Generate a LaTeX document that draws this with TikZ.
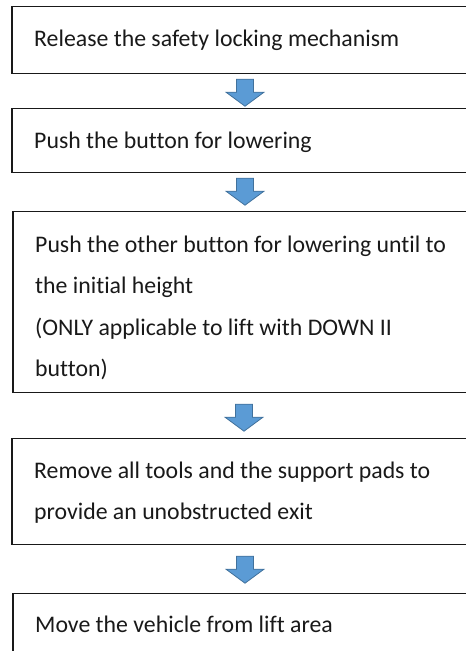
\documentclass[tikz,border=0pt]{standalone}
\usepackage{fontspec}
\setmainfont{Carlito}[Ligatures=NoCommon]
\usetikzlibrary{calc}
\definecolor{arrowfill}{HTML}{5B9BD5}
\definecolor{arrowline}{HTML}{41719C}
\tikzset{
  stepbox/.style={draw=black!90, line width=1.2pt, rectangle, minimum width=466pt, inner sep=0pt, anchor=north},
  txt/.style={inner sep=0pt, anchor=base west, font=\fontsize{23.8}{41.5}\selectfont, text=black!90},
  blockarrow/.style={fill=arrowfill, draw=arrowline, line width=0.8pt, line join=miter}
}
\newcommand\downarrowat[1]{%
  \draw[blockarrow] ($(#1)+(-8.5,0)$) -- ++(17,0) -- ++(0,13) -- ++(10.5,0)
    -- ($(#1)+(0,27)$) -- ($(#1)+(-19,13)$) -- ++(10.5,0) -- cycle;}
\newcommand\lines[1]{\vtop{#1}}
\begin{document}
\begin{tikzpicture}[x=1pt,y=-1pt]
\useasboundingbox (0,0) rectangle (466,651);
\clip (0,0) rectangle (466,651);
\node[stepbox, minimum height=67pt] (b1) at (245,6) {};
\node[stepbox, minimum height=64pt] (b2) at (245,108) {};
\node[stepbox, minimum height=181pt] (b3) at (246,211) {};
\node[stepbox, minimum height=106pt] (b4) at (245,438) {};
\node[stepbox, minimum height=80pt] (b5) at (246,593) {};
\node[txt] (t1) at (34,46) {Release the safety locking mechanism};
\node[txt] (t2) at (34,148) {Push the button for lowering};
\node[txt] (t3) at (35,252) {\lines{\hbox{Push the other button for lowering until to}\hbox{the initial height}\hbox{(ONLY applicable to lift with DOWN II}\hbox{button)}}};
\node[txt] (t4) at (34,478) {\lines{\hbox{Remove all tools and the support pads to}\hbox{provide an unobstructed exit}}};
\node[txt] (t5) at (35,632) {Move the vehicle from lift area};
\coordinate (a1) at ($(b1.south)+(0,5)$);
\coordinate (a2) at ($(b2.south)+(0,5)$);
\coordinate (a3) at ($(b3.south)+(-2,11)$);
\coordinate (a4) at ($(b4.south)+(0,11)$);
\downarrowat{a1}
\downarrowat{a2}
\downarrowat{a3}
\downarrowat{a4}
\end{tikzpicture}
\end{document}
